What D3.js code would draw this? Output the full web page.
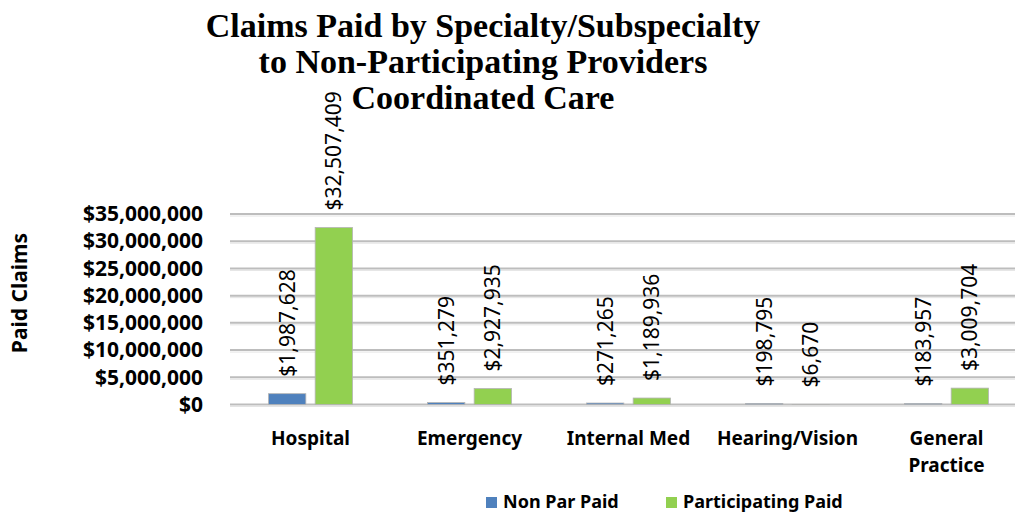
<!DOCTYPE html>
<html>
<head>
<meta charset="utf-8">
<script src="https://cdn.jsdelivr.net/npm/d3@7"></script>
<style>
  html, body { margin: 0; padding: 0; background: #fff; }
  svg { display: block; }
  .title { font-family: "Liberation Serif", serif; font-weight: bold; font-size: 34px; fill: #000; }
  .tick-label { font-family: "Noto Sans", sans-serif; font-weight: bold; font-size: 21px; fill: #000; }
  .cat-label { font-family: "Noto Sans", sans-serif; font-weight: bold; font-size: 19px; fill: #000; }
  .data-label { font-family: "Noto Sans", sans-serif; font-size: 21px; fill: #000; }
  .legend-label { font-family: "Noto Sans", sans-serif; font-weight: bold; font-size: 18px; fill: #000; }
</style>
</head>
<body>
<svg id="chart" width="1015" height="512"></svg>
<script>
const categories = [["Hospital"], ["Emergency"], ["Internal Med"], ["Hearing/Vision"], ["General", "Practice"]];
const nonParPaid = [1987628, 351279, 271265, 198795, 183957];
const participatingPaid = [32507409, 2927935, 1189936, 6670, 3009704];
const seriesNames = ["Non Par Paid", "Participating Paid"];
const seriesColors = ["#4f81bd", "#92d050"];
const yTicks = [0, 5000000, 10000000, 15000000, 20000000, 25000000, 30000000, 35000000];
const titleLines = ["Claims Paid by Specialty/Subspecialty", "to Non-Participating Providers", "Coordinated Care"];

const svg = d3.select("#chart");
const money = d3.format("$,");

const x = d3.scaleBand()
  .domain(d3.range(categories.length))
  .range([231, 1026]);

const x1 = d3.scaleBand()
  .domain([0, 1])
  .range([-42, 42])
  .paddingInner(0.2);

const y = d3.scaleLinear()
  .domain([0, 35000000])
  .range([404.5, 214]);

// title
svg.append("g")
  .selectAll("text")
  .data(titleLines)
  .join("text")
  .attr("class", "title")
  .attr("x", 483)
  .attr("y", (d, i) => 37 + i * 36)
  .attr("text-anchor", "middle")
  .text(d => d);

// gridlines
const grid = svg.append("g");
grid.selectAll("line.shadow")
  .data(yTicks)
  .join("line")
  .attr("class", "shadow")
  .attr("x1", 230).attr("x2", 1015)
  .attr("y1", d => y(d) + 2).attr("y2", d => y(d) + 2)
  .attr("stroke", "#e4e4e4")
  .attr("stroke-width", 1);
grid.selectAll("line.main")
  .data(yTicks)
  .join("line")
  .attr("class", "main")
  .attr("x1", 230).attr("x2", 1015)
  .attr("y1", d => y(d)).attr("y2", d => y(d))
  .attr("stroke", "#bdbdbd")
  .attr("stroke-width", 2);

// y axis labels
const yAxis = svg.append("g")
  .attr("transform", "translate(203,0)")
  .call(d3.axisLeft(y).tickValues(yTicks).tickFormat(money).tickSize(0).tickPadding(0));
yAxis.select(".domain").remove();
yAxis.selectAll(".tick text")
  .attr("class", "tick-label")
  .attr("font-family", null)
  .attr("font-size", null)
  .attr("fill", null);

// y axis title
svg.append("text")
  .attr("class", "tick-label")
  .attr("font-size", 21)
  .attr("transform", "translate(27,293) rotate(-90)")
  .attr("text-anchor", "middle")
  .text("Paid Claims");

// bars
const series = [nonParPaid, participatingPaid];
const groups = svg.append("g")
  .selectAll("g")
  .data(categories)
  .join("g")
  .attr("transform", (d, i) => `translate(${x(i) + x.bandwidth() / 2},0)`);

groups.selectAll("rect")
  .data((d, i) => series.map((s, k) => ({ k, v: s[i] })))
  .join("rect")
  .attr("x", d => x1(d.k))
  .attr("width", x1.bandwidth())
  .attr("y", d => y(d.v))
  .attr("height", d => y(0) - y(d.v))
  .attr("fill", d => seriesColors[d.k])
  .attr("stroke", "#b3b3b3")
  .attr("stroke-width", 0.8);

groups.selectAll("text.data-label")
  .data((d, i) => series.map((s, k) => ({ k, v: s[i] })))
  .join("text")
  .attr("class", "data-label")
  .attr("transform", d => `translate(${x1(d.k) + x1.bandwidth() / 2},${y(d.v) - 17}) rotate(-90)`)
  .attr("dy", "0.35em")
  .text(d => money(d.v));

// category labels
groups.append("text")
  .attr("class", "cat-label")
  .attr("text-anchor", "middle")
  .attr("y", 445)
  .selectAll("tspan")
  .data(d => d)
  .join("tspan")
  .attr("x", 0)
  .attr("dy", (d, i) => i === 0 ? 0 : 27)
  .text(d => d);

// legend
const legend = svg.append("g");
const legendX = [486, 666];
seriesNames.forEach((name, k) => {
  legend.append("rect")
    .attr("x", legendX[k]).attr("y", 497)
    .attr("width", 11).attr("height", 11)
    .attr("fill", seriesColors[k]);
  legend.append("text")
    .attr("class", "legend-label")
    .attr("x", legendX[k] + 17).attr("y", 508)
    .text(name);
});
</script>
</body>
</html>
